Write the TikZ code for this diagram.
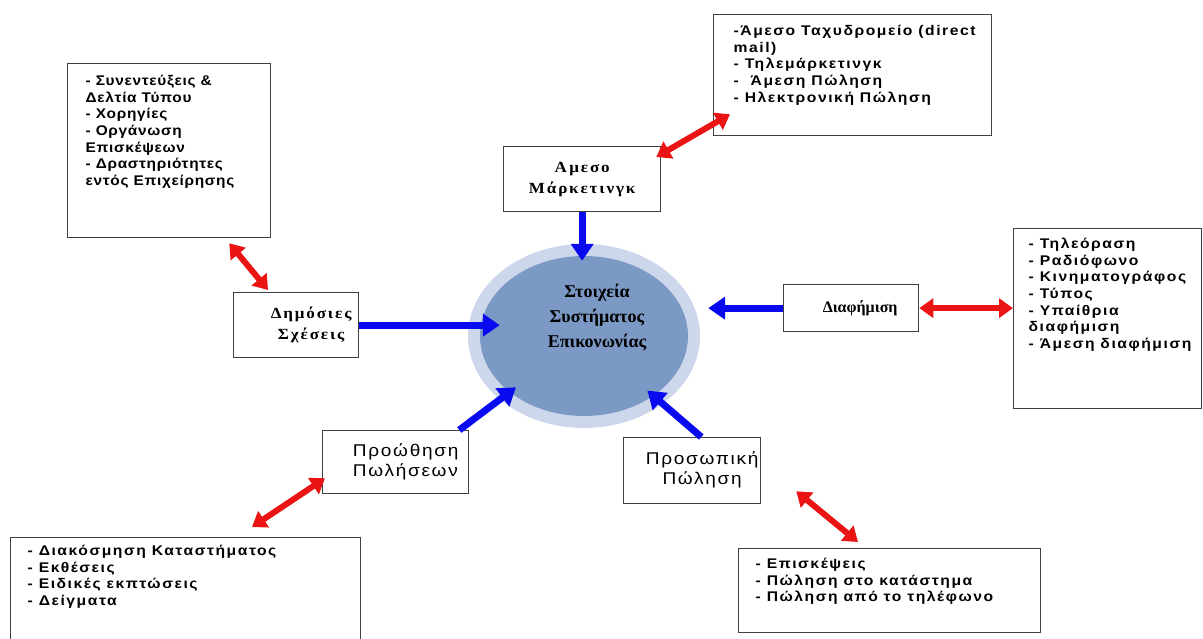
\documentclass[tikz,border=0pt]{standalone}
\usepackage{fontspec}
\setmainfont{Liberation Serif}
\newfontfamily\lsans{Liberation Sans}
% widened faces for the labels and the lists
\newfontfamily\listfont{Liberation Sans}[FakeStretch=1.12, LetterSpace=11]
\newfontfamily\listfontnarrow{Liberation Sans}[FakeStretch=1.1, LetterSpace=5]
\newfontfamily\tagsans{Liberation Sans}[FakeStretch=1.12, LetterSpace=10]
\newfontfamily\tagserif{Liberation Serif}[FakeStretch=1.1, LetterSpace=12]
\usetikzlibrary{arrows.meta,calc,shapes.geometric}

\definecolor{boxgray}{RGB}{64,64,64}
\definecolor{corefill}{RGB}{124,152,196}
\definecolor{halofill}{RGB}{205,215,235}
\definecolor{pushblue}{RGB}{10,10,240}
\definecolor{linkred}{RGB}{235,20,20}

% list panel: width, height, left pad, top pad, face, lines
\newcommand\listpanel[6]{%
  \begin{minipage}[c][#2pt][t]{#1pt}%
    \vspace*{#4pt}\hspace*{#3pt}%
    {#5\bfseries\fontsize{14}{16.7}\selectfont
     \begin{tabular}[t]{@{}l@{}}#6\end{tabular}}%
  \end{minipage}}
% label block pushed right inside its box: shift, column type, lines
\newcommand\shiftedlabel[3]{\hspace*{#1pt}\begin{tabular}{@{}#2@{}}#3\end{tabular}}

\tikzset{
  panel/.style={draw=boxgray, line width=1.3pt, fill=white, inner sep=0pt,
                anchor=north west},
  tag/.style={draw=boxgray, line width=1.3pt, fill=white, inner sep=2pt,
              anchor=north west, align=center},
  serifbold/.style={font=\tagserif\bfseries\fontsize{15.5}{21}\selectfont},
  sanstag/.style={font=\tagsans\fontsize{17}{20}\selectfont},
  push/.style={draw=pushblue, line width=7pt,
               -{Triangle[length=17pt,width=22pt]}},
  link/.style={draw=linkred, line width=6pt,
               {Triangle[length=14pt,width=19pt]}-{Triangle[length=14pt,width=19pt]}},
}

\begin{document}
\begin{tikzpicture}[x=1pt,y=-1pt]
\useasboundingbox (0,0) rectangle (1203,639);

% central element with its light halo
\node[ellipse, fill=halofill, minimum width=232pt, minimum height=184pt,
      inner sep=0pt] (halo) at (584,336) {};
\node[ellipse, fill=corefill, minimum width=208pt, minimum height=160pt,
      inner sep=0pt] (core) at (584,336) {};
\node[font=\bfseries\fontsize{18}{25}\selectfont, align=center] (coretext)
      at (597,318) {Στοιχεία\\Συστήματος\\Επικονωνίας};

% communication tools
\node[tag, serifbold, minimum width=157pt, minimum height=65pt] (mk) at (503,146)
      {Α\,μεσο\\Μάρκετινγκ};
\node[tag, serifbold, minimum width=125pt, minimum height=65pt] (dim) at (233,292)
      {\shiftedlabel{30}{c}{Δημόσιες\\Σχέσεις}};
\node[tag, font=\bfseries\fontsize{16}{20}\selectfont, minimum width=135pt,
      minimum height=47pt] (diaf) at (783,284)
      {\shiftedlabel{18}{c}{Διαφήμιση}};
\node[tag, sanstag, minimum width=146pt, minimum height=63pt] (pro) at (322,430)
      {\shiftedlabel{20}{l}{Προώθηση\\Πωλήσεων}};
\node[tag, sanstag, minimum width=137pt, minimum height=66pt] (pers) at (623,437)
      {\shiftedlabel{20}{c}{Προσωπική\\Πώληση}};

% detail panels
\node[panel] (pr) at (67,63) {\listpanel{203}{174}{18}{10}{\listfontnarrow}{%
  - Συνεντεύξεις \&\\ Δελτία Τύπου\\ - Χορηγίες\\ - Οργάνωση\\ Επισκέψεων\\
  - Δραστηριότητες\\ εντός Επιχείρησης}};
\node[panel] (dm) at (713,14) {\listpanel{278}{121}{20}{9}{\listfont}{%
  -Άμεσο Ταχυδρομείο (direct\\ mail)\\ - Τηλεμάρκετινγκ\\ -\ \ Άμεση Πώληση\\
  - Ηλεκτρονική Πώληση}};
\node[panel] (media) at (1013,228) {\listpanel{188}{180}{15}{8}{\listfont}{%
  - Τηλεόραση\\ - Ραδιόφωνο\\ - Κινηματογράφος\\ - Τύπος\\ - Υπαίθρια\\
  διαφήμιση\\ - Άμεση διαφήμιση}};
\node[panel] (promo) at (10,537) {\listpanel{350}{115}{17}{6}{\listfont}{%
  - Διακόσμηση Καταστήματος\\ - Εκθέσεις\\ - Ειδικές εκπτώσεις\\ - Δείγματα}};
\node[panel] (sell) at (738,548) {\listpanel{302}{84}{17}{8}{\listfont}{%
  - Επισκέψεις\\ - Πώληση στο κατάστημα\\ - Πώληση από το τηλέφωνο}};

% tools feeding the central element
\draw[push, shorten >=-5pt] (mk.south) -- (mk.south |- core.north);
\draw[push] (dim.east) -- ($(dim.east -| core.west)+(20,0)$);
\draw[push] (diaf.west) -- ($(diaf.west -| core.east)+(20,0)$);
\draw[push, shorten >=-8pt] ($(pro.north east)+(-10,0)$) -- (core);
\draw[push, shorten >=-8pt] ($(pers.north east)+(-60,0)$) -- (core);

% tools linked to their details
\draw[link] ($(pr.south east)+(-42,5)$) -- ($(dim.north west)+(35,-2)$);
\draw[link] ($(mk.north east)+(-5,11)$) -- ($(dm.south west)+(17,-22)$);
\draw[link] (diaf.east) -- (diaf.east -| media.west);
\draw[link] ($(promo.north west)+(242,-10)$) -- ($(pro.south west)+(3,-16)$);
\draw[link] ($(pers.south east)+(35,-13)$) -- ($(sell.north west)+(120,-6)$);
\end{tikzpicture}
\end{document}
